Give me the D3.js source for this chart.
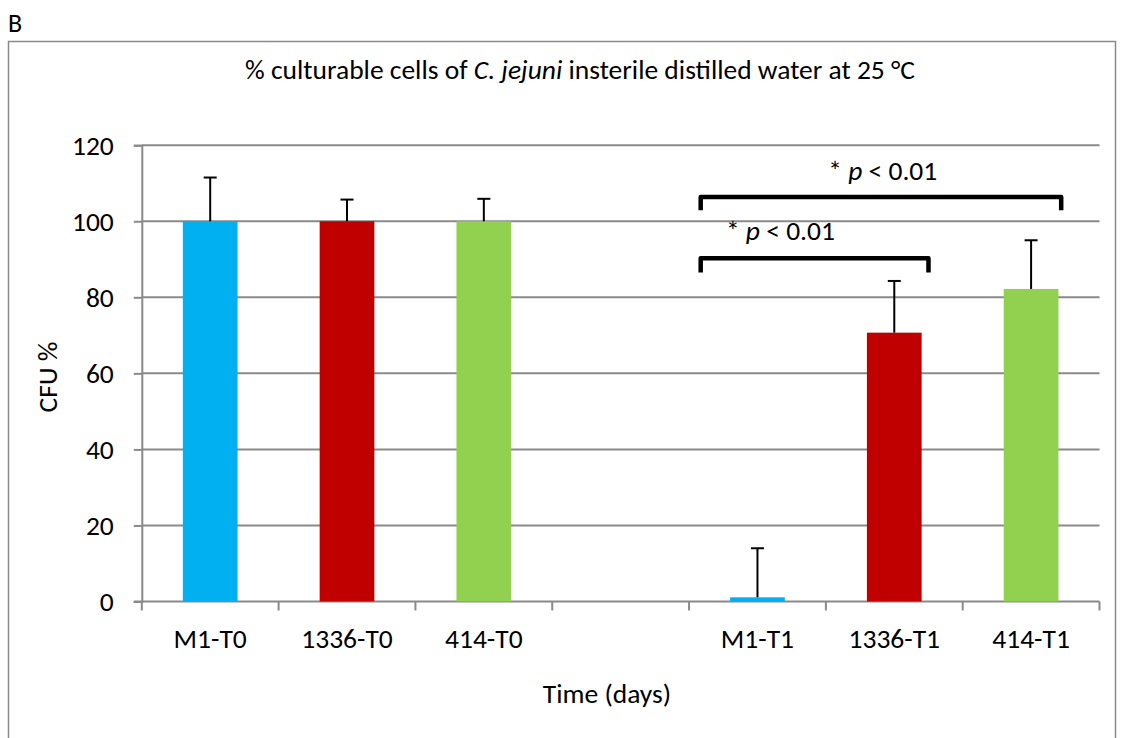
<!DOCTYPE html>
<html>
<head>
<meta charset="utf-8">
<script src="https://cdn.jsdelivr.net/npm/d3@7"></script>
<style>
  html, body { margin: 0; padding: 0; background: #fff; }
  svg { display: block; }
  text { font-family: Carlito, Calibri, Lato, "Open Sans", sans-serif; fill: #000; }
</style>
</head>
<body>
<svg id="chart" width="1127" height="738"></svg>
<script>
// ---------- data ----------
const categories = ["M1-T0", "1336-T0", "414-T0", "", "M1-T1", "1336-T1", "414-T1"];
const strains    = ["M1", "1336", "414", "", "M1", "1336", "414"];
const values     = [100, 100, 100, null, 1.1, 70.7, 82.2];
const errors     = [11.5, 5.7, 5.9, null, 12.9, 13.6, 12.8];
const yTicks     = [0, 20, 40, 60, 80, 100, 120];
const strainColors = { "M1": "#00B0F0", "1336": "#C00000", "414": "#92D050" };
const brackets = [
  { from: "M1-T1", fromOff: 0.085, to: "414-T1",  toOff: 0.72, level: 106.4, drop: 3.5, labelAt: 110.9, labelCenter: 0.505 },
  { from: "M1-T1", fromOff: 0.085, to: "1336-T1", toOff: 0.75, level: 90.3,  drop: 3.8, labelAt: 95.1,  labelCenter: 0.35 }
];
const titleParts = [
  { t: "% culturable cells of ", i: false },
  { t: "C. jejuni", i: true },
  { t: " insterile distilled water at 25 °C", i: false }
];

(function () {
const svg = d3.select("#chart");
const pl = 141.8, pr = 1099.5, pt = 145.2, pb = 601.5;
const grey = "#8a8a8a";
const fs = "27.5px";

const x = d3.scaleBand().domain(categories).range([pl, pr]).padding(0);
const y = d3.scaleLinear().domain([0, 120]).range([pb, pt]);
const barW = x.bandwidth() * 0.4;

svg.append("text").attr("x", 8).attr("y", 32).style("font-size", "26px").text("B");
svg.append("path")
  .attr("d", `M8.5,745 V41.5 H1115.5 V745`)
  .attr("fill", "none").attr("stroke", grey).attr("stroke-width", 1.5);

const title = svg.append("text").attr("x", 580).attr("y", 79)
  .attr("text-anchor", "middle").style("font-size", "27.5px");
titleParts.forEach(p => title.append("tspan").style("font-style", p.i ? "italic" : "normal").text(p.t));

const yAxis = d3.axisLeft(y).tickValues(yTicks).tickSize(8).tickPadding(20);
const gy = svg.append("g").attr("transform", `translate(${pl},0)`).call(yAxis);
gy.select(".domain").attr("stroke", grey).attr("stroke-width", 2);
gy.selectAll(".tick line").attr("stroke", grey).attr("stroke-width", 2);
gy.selectAll(".tick text").style("font-size", fs).style("font-family", "Carlito, Calibri, Lato, sans-serif").attr("fill", "#000");

svg.append("g").selectAll("line").data(yTicks.filter(d => d > 0)).join("line")
  .attr("x1", pl).attr("x2", pr)
  .attr("y1", d => y(d)).attr("y2", d => y(d))
  .attr("stroke", grey).attr("stroke-width", 2);

const gx = svg.append("g").attr("transform", `translate(0,${pb})`);
const boundaries = categories.map(c => x(c)).concat([pr]);
gx.append("line").attr("x1", pl - 8).attr("x2", pr).attr("y1", 0).attr("y2", 0)
  .attr("stroke", grey).attr("stroke-width", 2);
gx.selectAll("line.tk").data(boundaries).join("line").attr("class", "tk")
  .attr("x1", d => d).attr("x2", d => d).attr("y1", 0).attr("y2", 9)
  .attr("stroke", grey).attr("stroke-width", 2);
gx.selectAll("text").data(categories).join("text")
  .attr("x", d => x(d) + x.bandwidth() / 2).attr("y", 46)
  .attr("text-anchor", "middle").style("font-size", fs).text(d => d);

const data = categories.map((c, i) => ({ c, s: strains[i], v: values[i], e: errors[i] })).filter(d => d.v !== null);
svg.append("g").selectAll("rect").data(data).join("rect")
  .attr("x", d => x(d.c) + (x.bandwidth() - barW) / 2)
  .attr("width", barW)
  .attr("y", d => y(d.v))
  .attr("height", d => y(0) - y(d.v))
  .attr("fill", d => strainColors[d.s]);

const eg = svg.append("g").attr("stroke", "#000").attr("stroke-width", 2);
data.forEach(d => {
  const cx = x(d.c) + x.bandwidth() / 2;
  eg.append("line").attr("x1", cx).attr("x2", cx).attr("y1", y(d.v)).attr("y2", y(d.v + d.e));
  eg.append("line").attr("x1", cx - 6.5).attr("x2", cx + 6.5).attr("y1", y(d.v + d.e)).attr("y2", y(d.v + d.e));
});

brackets.forEach(b => {
  const x1 = x(b.from) + x.bandwidth() * b.fromOff;
  const x2 = x(b.to) + x.bandwidth() * b.toOff;
  svg.append("path")
    .attr("d", `M${x1},${y(b.level - b.drop)} V${y(b.level)} H${x2} V${y(b.level - b.drop)}`)
    .attr("fill", "none").attr("stroke", "#000").attr("stroke-width", 4.5).attr("stroke-linejoin", "round");
  const t = svg.append("text").attr("x", x1 + (x2 - x1) * b.labelCenter).attr("y", y(b.labelAt))
    .attr("text-anchor", "middle").style("font-size", fs);
  t.append("tspan").text("* ");
  t.append("tspan").style("font-style", "italic").text("p");
  t.append("tspan").text(" < 0.01");
});

svg.append("text").attr("x", 607).attr("y", 703).attr("text-anchor", "middle")
  .style("font-size", fs).text("Time (days)");
svg.append("text").attr("transform", `translate(57,377) rotate(-90)`).attr("text-anchor", "middle")
  .style("font-size", fs).text("CFU %");
})();
</script>
</body>
</html>
